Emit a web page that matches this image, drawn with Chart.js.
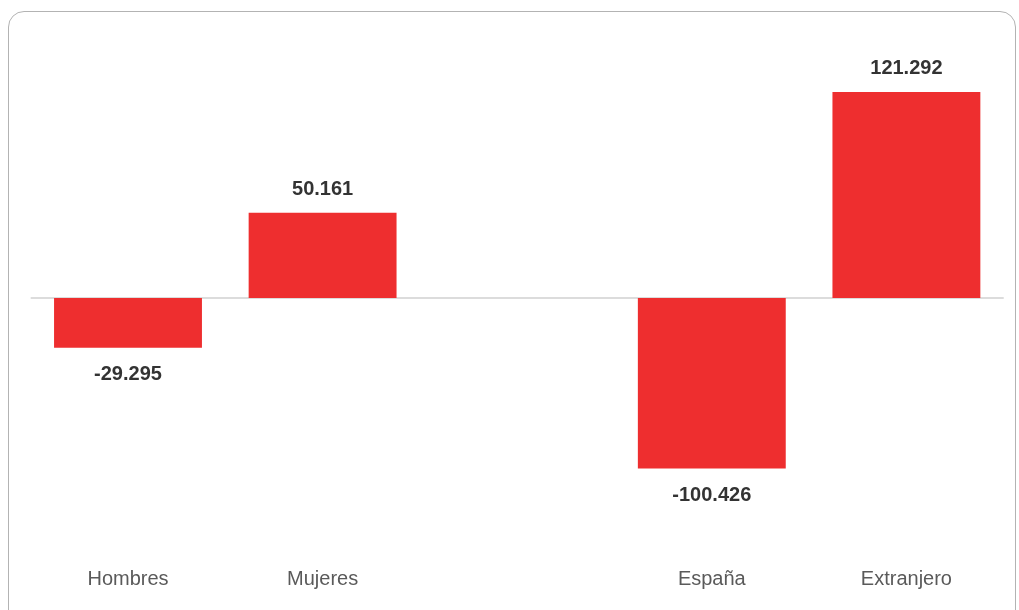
<!DOCTYPE html>
<html>
<head>
<meta charset="utf-8">
<script src="https://cdn.jsdelivr.net/npm/chart.js@4.4.0/dist/chart.umd.min.js"></script>
<style>
  html, body { margin: 0; padding: 0; background: #fff; overflow: hidden; }
  #wrap { position: relative; width: 1019px; height: 610px; }
  #frame {
    position: absolute; left: 8px; top: 11px; width: 1008px; height: 640px;
    border: 1.5px solid #b3b3b3; border-radius: 16px; box-sizing: border-box;
  }
  canvas { position: absolute; left: 0; top: 0; }
</style>
</head>
<body>
<div id="wrap">
  <div id="frame"></div>
  <canvas id="chart" width="1019" height="610"></canvas>
</div>
<script>
// --- Dati ---
const categories = ['Hombres', 'Mujeres', '', 'España', 'Extranjero'];
const values = [-29.295, 50.161, null, -100.426, 121.292];
const valueLabels = ['-29.295', '50.161', '', '-100.426', '121.292'];

const barColor = '#EE2E2F';

// linea dello zero
const zeroLine = {
    id: 'zeroLine',
    beforeDatasetsDraw(chart) {
        const { ctx, chartArea, scales } = chart;
        const y = scales.y.getPixelForValue(0);
        ctx.save();
        ctx.strokeStyle = '#d0d0d0';
        ctx.lineWidth = 1.5;
        ctx.beginPath();
        ctx.moveTo(chartArea.left, y);
        ctx.lineTo(chartArea.right, y);
        ctx.stroke();
        ctx.restore();
    }
};

// etichette dei valori sopra/sotto le barre
const valueLabelsPlugin = {
    id: 'valueLabels',
    afterDatasetsDraw(chart) {
        const { ctx } = chart;
        const meta = chart.getDatasetMeta(0);
        ctx.save();
        ctx.font = 'bold 20px "Liberation Sans", Arial, sans-serif';
        ctx.fillStyle = '#333333';
        ctx.textAlign = 'center';
        ctx.textBaseline = 'alphabetic';
        meta.data.forEach((bar, i) => {
            const v = values[i];
            if (v === null) return;
            const y = v >= 0 ? bar.y - 18 : bar.y + 32;
            ctx.fillText(valueLabels[i], bar.x, y);
        });
        ctx.restore();
    }
};

new Chart(document.getElementById('chart'), {
    type: 'bar',
    data: {
        labels: categories,
        datasets: [{ data: values, backgroundColor: barColor, borderWidth: 0, barPercentage: 0.76, categoryPercentage: 1 }]
    },
    options: {
        responsive: false,
        animation: false,
        layout: { padding: { top: 60.3, bottom: 18.3, left: 30.7, right: 15.3 } },
        plugins: { legend: { display: false }, tooltip: { enabled: false } },
        scales: {
            x: {
                grid: { display: false, drawTicks: false },
                border: { display: false },
                afterFit: (scale) => { scale.height = 56; },
                ticks: { color: '#5a5a5a', padding: 32, font: { family: '"Liberation Sans", Arial, sans-serif', size: 20 }, maxRotation: 0 }
            },
            y: { display: false, min: -140, max: 140 }
        }
    },
    plugins: [zeroLine, valueLabelsPlugin]
});
</script>
</body>
</html>
